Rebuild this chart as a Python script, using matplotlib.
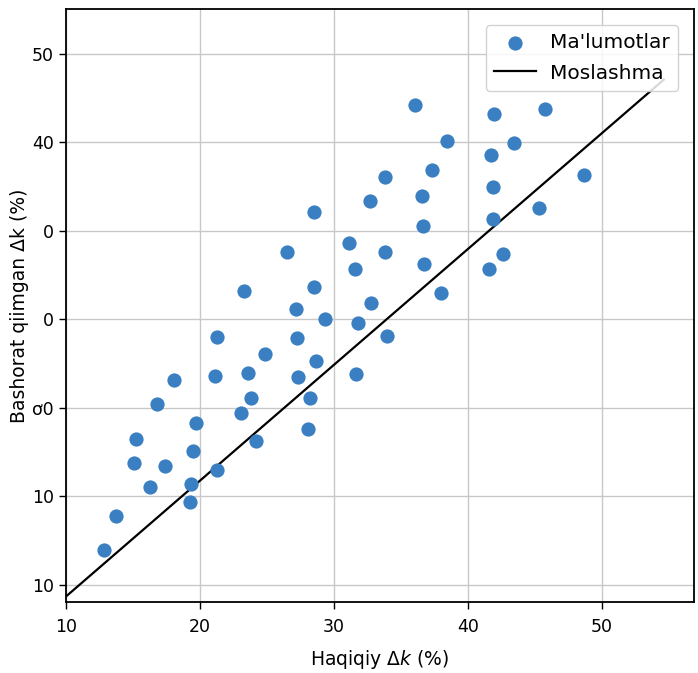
import matplotlib
matplotlib.use("Agg")
import matplotlib.pyplot as plt
import numpy as np

# measured vs predicted delta-k values (%)
actual = [12.83, 13.75, 15.09, 15.22, 16.29, 16.81, 17.38, 18.05, 19.29, 19.34,
          19.52, 19.74, 21.13, 21.28, 21.26, 23.09, 23.27, 23.62, 23.82, 24.19,
          24.86, 26.48, 27.17, 27.25, 27.32, 28.09, 28.20, 28.49, 28.52, 28.67,
          29.36, 31.15, 31.60, 31.65, 31.76, 32.67, 32.77, 33.79, 33.81, 33.96,
          36.07, 36.55, 36.67, 36.72, 37.32, 37.99, 38.43, 41.59, 41.69, 41.86,
          41.89, 41.94, 42.61, 43.41, 45.27, 45.72, 48.67]
predicted = [-6.01, -2.24, 3.78, 6.45, 1.07, 10.47, 3.47, 13.12, -0.63, 1.41,
             5.17, 8.33, 13.60, 18.01, 2.99, 9.39, 23.17, 13.91, 11.15, 6.30,
             16.05, 27.64, 21.20, 17.89, 13.52, 7.65, 11.12, 23.62, 32.16, 15.26,
             20.07, 28.66, 25.69, 13.79, 19.55, 33.33, 21.88, 36.11, 27.64, 18.12,
             44.21, 33.90, 30.58, 26.22, 36.83, 23.01, 40.14, 25.69, 38.59, 34.95,
             31.37, 43.19, 27.41, 39.95, 32.61, 43.72, 36.27]

fit_slope = 1.309
fit_intercept = -24.41
fit_range = [10, 54.6]

x_ticks = [10, 20, 30, 40, 50]
y_ticks = [50, 40, 30, 20, 10, 0, -10]
y_tick_labels = ['50', '40', '0', '0', 'ơ0', '10', '10']

fig = plt.figure(figsize=(6.98, 6.73), dpi=100)
ax = fig.add_axes([0.0941, 0.105, 0.9002, 0.8812])

xf = np.linspace(fit_range[0], fit_range[1], 50)
ax.plot(xf, fit_slope * xf + fit_intercept, color='black', lw=1.6,
        label='Moslashma', zorder=2)
ax.scatter(actual, predicted, s=105, color='#3a7fc1', linewidths=0,
           label="Ma'lumotlar", zorder=3)

ax.set_xlim(10, 56.85)
ax.set_ylim(-11.95, 55.0)
ax.set_xticks(x_ticks)
ax.set_yticks(y_ticks)
ax.set_yticklabels(y_tick_labels)
ax.tick_params(labelsize=12.5, length=5, width=1)
ax.tick_params(axis='x', pad=6)
ax.grid(True, color='#c8c8c8', lw=1)
ax.set_axisbelow(True)
for s in ax.spines.values():
    s.set_linewidth(1.3)

ax.set_xlabel(r'Haqiqiy $\Delta k$ (%)', fontsize=13.5, labelpad=9)
ax.set_ylabel('Bashorat qiimgan Δk (%)', fontsize=13.5, labelpad=2)

handles, labels = ax.get_legend_handles_labels()
ax.legend(handles[::-1], labels[::-1], loc='upper right', fontsize=14.5,
          framealpha=0.85, borderpad=0.4, handletextpad=0.7,
          handlelength=2.1, labelspacing=0.55, borderaxespad=0.8)

fig.savefig('out.png', dpi=100)
